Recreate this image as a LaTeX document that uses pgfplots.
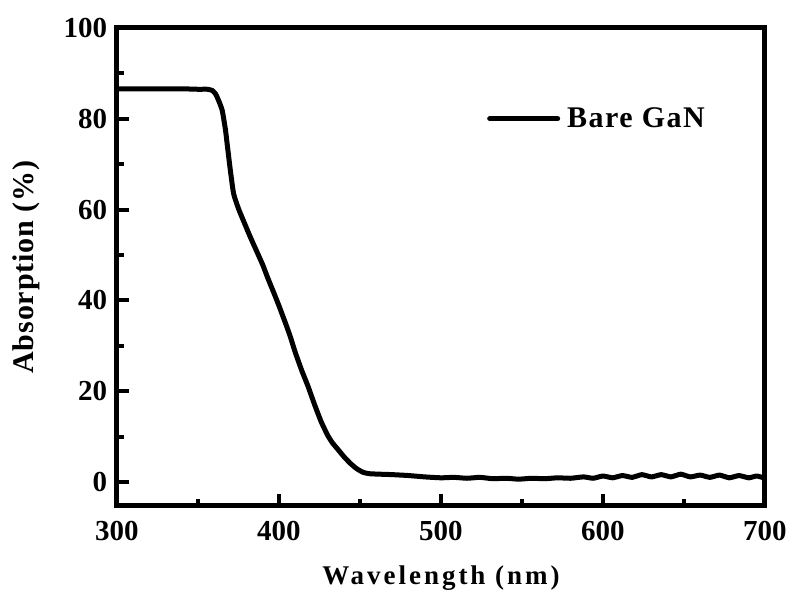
\documentclass[border=0pt]{standalone}
\usepackage{fontspec}
\setmainfont{Liberation Serif}
\newfontfamily\xlabelfont[LetterSpace=11]{Liberation Serif}
\newfontfamily\ylabelfont[LetterSpace=3]{Liberation Serif}
\newfontfamily\legfont[LetterSpace=5]{Liberation Serif}
\usepackage{pgfplots}
\pgfplotsset{compat=1.18}
\begin{document}
\begin{tikzpicture}
\begin{axis}[
  name=ax,
  scale only axis,
  width=648pt, height=478pt,
  xmin=300, xmax=700, ymin=-5.3, ymax=100,
  xtick={300,400,500,600,700},
  ytick={0,20,40,60,80,100},
  minor xtick={350,450,550,650},
  minor ytick={10,30,50,70,90},
  tick align=inside,
  xtick pos=bottom, ytick pos=left,
  major tick length=12pt, minor tick length=7pt,
  every tick/.style={line width=4pt, black},
  axis line style={line width=5pt},
  every axis/.append style={line width=5pt},
  tick label style={font=\fontsize{29}{32}\selectfont\bfseries},
  /pgf/number format/assume math mode=true,
  xticklabel style={yshift=-9pt},
  yticklabel style={xshift=-4pt},
  xlabel={\xlabelfont\fontsize{27}{30}\selectfont\bfseries Wavelength (nm)},
  ylabel={\ylabelfont\fontsize{30}{32}\selectfont\bfseries Absorption (\%)},
  xlabel style={yshift=-16pt},
  ylabel style={yshift=15pt},
  legend style={draw=none, fill=none, at={(axis cs:527,80)}, anchor=west,
    font=\legfont\fontsize{30}{32}\selectfont\bfseries, legend cell align=left,
    inner sep=0pt},
  legend image code/.code={\draw[#1, line width=5pt, line cap=round] (2.5pt,0pt) -- (70.5pt,0pt);},
]
\addplot[black, line width=5pt, line join=round, smooth, tension=0.3] coordinates {
(300,86.6) (320,86.6) (340,86.6) (350,86.5) (356,86.5) (359,86.2) (361,85.4)
(363,83.8) (365,81.8) (367,77.5) (368,74.5) (370,68.6) (372,63.5) (375,60.2)
(378,57.6) (382,54.2) (386,51) (390,47.8) (393,45) (397,41.5) (400,38.8)
(404,35) (407,32) (410,28.6) (414,24.6) (418,21) (422,17) (426,13.3)
(430,10.3) (433,8.6) (437,6.9) (440,5.6) (444,4.1) (448,2.9) (452,2.1)
(456,1.8) (462,1.7) (470,1.6) (480,1.4) (490,1.1) (500,0.9) (508,1.0)
(516,0.8) (524,1.0) (532,0.7) (540,0.8) (548,0.6) (556,0.8) (564,0.7)
(572,0.9) (580,0.8) (588,1.1) (594,0.8) (600,1.3) (606,0.9) (612,1.4)
(618,1.0) (624,1.6) (630,1.1) (636,1.6) (642,1.1) (648,1.7) (654,1.1)
(660,1.5) (666,1.0) (672,1.5) (678,0.9) (684,1.4) (690,0.9) (695,1.3) (700,0.8)
};
\addlegendentry{\hspace{5pt}Bare GaN}
\end{axis}
\path ([xshift=-117pt,yshift=28pt]ax.north west) rectangle ([xshift=25pt,yshift=-81pt]ax.south east);
\end{tikzpicture}
\end{document}
